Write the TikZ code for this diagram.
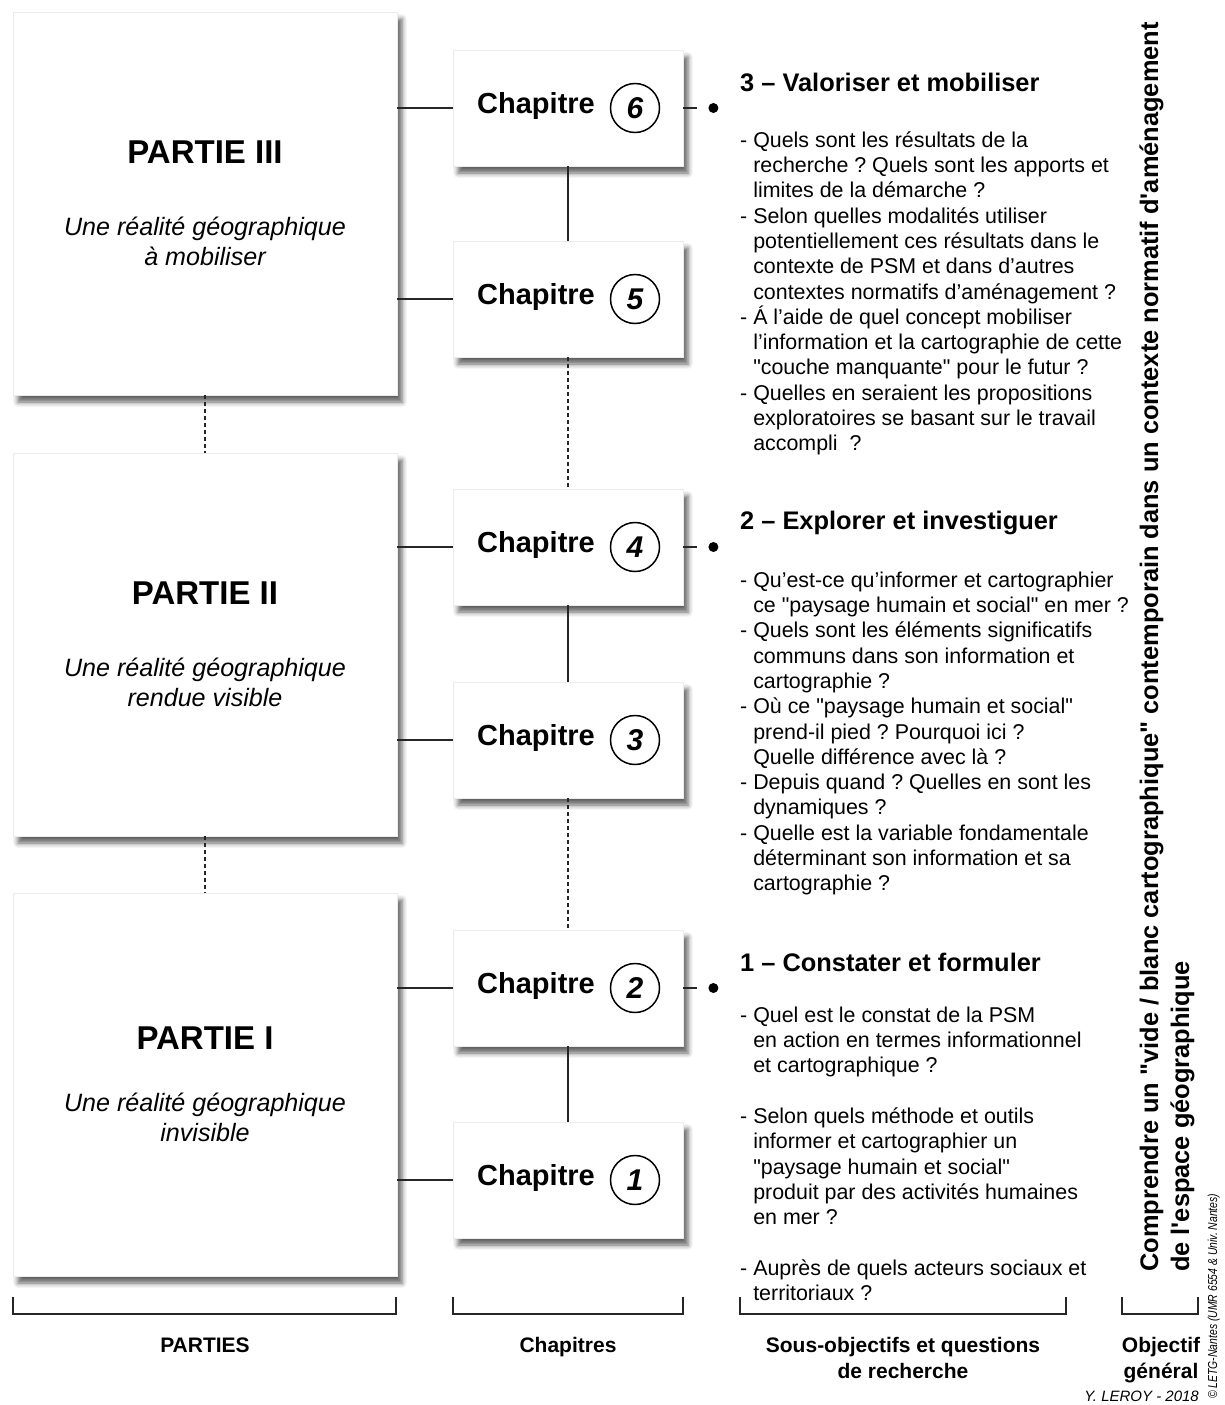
\documentclass[tikz,border=0pt]{standalone}
\usepackage{fontspec}
\setmainfont{Liberation Sans}
\usetikzlibrary{shadows.blur}
\newcommand{\fsz}[2]{\fontsize{#1}{#2}\selectfont}
\newcommand{\ind}{\hphantom{- }}
\newcommand{\qd}{\textquotedbl}
\frenchspacing
\begin{document}
\begin{tikzpicture}[x=1pt,y=-1pt,
  box/.style={fill=white, draw=black!8, line width=0.8pt, inner sep=0pt,
    blur shadow={shadow xshift=5pt, shadow yshift=-7pt, shadow blur radius=5pt, shadow opacity=62}},
  partbox/.style={box, minimum width=384pt, minimum height=383pt},
  chapbox/.style={box, minimum width=230pt, minimum height=116pt},
  link/.style={line width=1.5pt, draw=black!85},
  dlink/.style={link, dash pattern=on 4pt off 3pt},
  parttitle/.style={anchor=base, inner sep=0pt, font=\fsz{33}{38}\bfseries},
  partsub/.style={anchor=base, inner sep=0pt, font=\fsz{25.1}{30}\itshape},
  chaptxt/.style={anchor=base west, inner sep=0pt, font=\fsz{29}{34}\bfseries},
  numcirc/.style={circle, draw, line width=1.5pt, minimum size=49pt, inner sep=0pt, font=\fsz{30}{34}\bfseries\itshape},
  dotnode/.style={circle, fill=black, minimum size=10pt, inner sep=0pt},
  heading/.style={anchor=base west, inner sep=0pt, font=\fsz{25.4}{30}\bfseries},
  body/.style={anchor=north west, inner sep=0pt, align=left, font=\fsz{21.4}{25.3}},
  lab/.style={anchor=base, inner sep=0pt, font=\fsz{21}{26}\bfseries},
  vert/.style={anchor=base west, inner sep=0pt, rotate=90, font=\fsz{25.4}{30}\bfseries},
]
\useasboundingbox (0,0) rectangle (1224,1405);

% Parts
\node[partbox] (p3) at (205,203.5) {};
\node[partbox] (p2) at (205,644.5) {};
\node[partbox] (p1) at (205,1084.5) {};

% Chapters
\node[chapbox] (c6) at (568,108) {};
\node[chapbox] (c5) at (568,299) {};
\node[chapbox] (c4) at (568,547) {};
\node[chapbox] (c3) at (568,740) {};
\node[chapbox] (c2) at (568,988) {};
\node[chapbox] (c1) at (568,1180) {};

% Part texts
\node[parttitle] (pt3) at (205,163) {PARTIE III};
\node[partsub] (ps3a) at (205,235) {Une réalité géographique};
\node[partsub] (ps3b) at (205,265) {à mobiliser};
\node[parttitle] (pt2) at (205,604) {PARTIE II};
\node[partsub] (ps2a) at (205,676) {Une réalité géographique};
\node[partsub] (ps2b) at (205,706) {rendue visible};
\node[parttitle] (pt1) at (205,1049) {PARTIE I};
\node[partsub] (ps1a) at (205,1111) {Une réalité géographique};
\node[partsub] (ps1b) at (205,1141) {invisible};

% Chapter texts and numbers
\foreach \c in {1,...,6}{
  \node[chaptxt] (ct\c) at ([shift={(-91,5)}]c\c.center) {Chapitre};
  \node[numcirc] (cn\c) at ([shift={(67,0)}]c\c.center) {\c};
}

% Connectors part -> chapter
\draw[link] (p3.east |- c6.west) -- (c6.west);
\draw[link] (p3.east |- c5.west) -- (c5.west);
\draw[link] (p2.east |- c4.west) -- (c4.west);
\draw[link] (p2.east |- c3.west) -- (c3.west);
\draw[link] (p1.east |- c2.west) -- (c2.west);
\draw[link] (p1.east |- c1.west) -- (c1.west);

% Vertical chapter links
\draw[link] (c6.south) -- (c5.north);
\draw[dlink] (c5.south) -- (c4.north);
\draw[link] (c4.south) -- (c3.north);
\draw[dlink] (c3.south) -- (c2.north);
\draw[link] (c2.south) -- (c1.north);

% Part links
\draw[dlink] (p3.south) -- (p2.north);
\draw[dlink] (p2.south) -- (p1.north);

% Dots
\foreach \c in {6,4,2}{
  \node[dotnode] (d\c) at ([shift={(30,0)}]c\c.east) {};
  \coordinate (e\c) at ([shift={(14,0)}]c\c.east);
  \draw[link] (c\c.east) -- (e\c);
}

% Section 3
\node[heading] (h3) at (740,91) {3 – Valoriser et mobiliser};
\node[body] (b3) at (740,129.3) {\strut- Quels sont les résultats de la\\
\ind recherche ? Quels sont les apports et\\
\ind limites de la démarche ?\\
- Selon quelles modalités utiliser\\
\ind potentiellement ces résultats dans le\\
\ind contexte de PSM et dans d’autres\\
\ind contextes normatifs d’aménagement ?\\
- Á l’aide de quel concept mobiliser\\
\ind l’information et la cartographie de cette\\
\ind \qd couche manquante\qd{} pour le futur ?\\
- Quelles en seraient les propositions\\
\ind exploratoires se basant sur le travail\\
\ind accompli\ \ ?};

% Section 2
\node[heading] (h2) at (740,529) {2 – Explorer et investiguer};
\node[body] (b2) at (740,569.3) {\strut- Qu’est-ce qu’informer et cartographier\\
\ind ce \qd paysage humain et social\qd{} en mer ?\\
- Quels sont les éléments significatifs\\
\ind communs dans son information et\\
\ind cartographie ?\\
- Où ce \qd paysage humain et social\qd\\
\ind prend-il pied ? Pourquoi ici ?\\
\ind Quelle différence avec là ?\\
- Depuis quand ? Quelles en sont les\\
\ind dynamiques ?\\
- Quelle est la variable fondamentale\\
\ind déterminant son information et sa\\
\ind cartographie ?};

% Section 1
\node[heading] (h1) at (740,971) {1 – Constater et formuler};
\node[body] (b1) at (740,1004.3) {\strut- Quel est le constat de la PSM\\
\ind en action en termes informationnel\\
\ind et cartographique ?\\[25.3pt]
- Selon quels méthode et outils\\
\ind informer et cartographier un\\
\ind \qd paysage humain et social\qd\\
\ind produit par des activités humaines\\
\ind en mer ?\\[25.3pt]
- Auprès de quels acteurs sociaux et\\
\ind territoriaux ?};

% Vertical objective text
\node[vert] (v1) at (1158,1272) {Comprendre un \qd vide / blanc cartographique\qd{} contemporain dans un contexte normatif d\textquotesingle aménagement};
\node[vert] (v2) at (1189,1272) {de l\textquotesingle espace géographique};

% Brackets
\draw[link] (13,1297) |- (396,1314) -- (396,1297);
\draw[link] (453,1297) |- (683,1314) -- (683,1297);
\draw[link] (740,1297) |- (1066,1314) -- (1066,1297);
\draw[link] (1122,1297) |- (1198,1314) -- (1198,1297);

% Labels
\node[lab] (l1) at (205,1352) {PARTIES};
\node[lab] (l2) at (568,1352) {Chapitres};
\node[lab] (l3a) at (903,1352) {Sous-objectifs et questions};
\node[lab] (l3b) at (903,1378) {de recherche};
\node[lab] (l4a) at (1161,1352) {Objectif};
\node[lab] (l4b) at (1161,1378) {général};

% Credits
\node[anchor=base east, inner sep=0pt, font=\fsz{15}{18}\itshape] (cr) at (1199,1401) {Y. LEROY - 2018};
\node[anchor=base west, inner sep=0pt, rotate=90, font=\fsz{13}{15}\itshape] (cp) at (1217,1399) {\scalebox{0.8}[1]{© LETG-Nantes (UMR 6554 \& Univ. Nantes)}};
\end{tikzpicture}
\end{document}
